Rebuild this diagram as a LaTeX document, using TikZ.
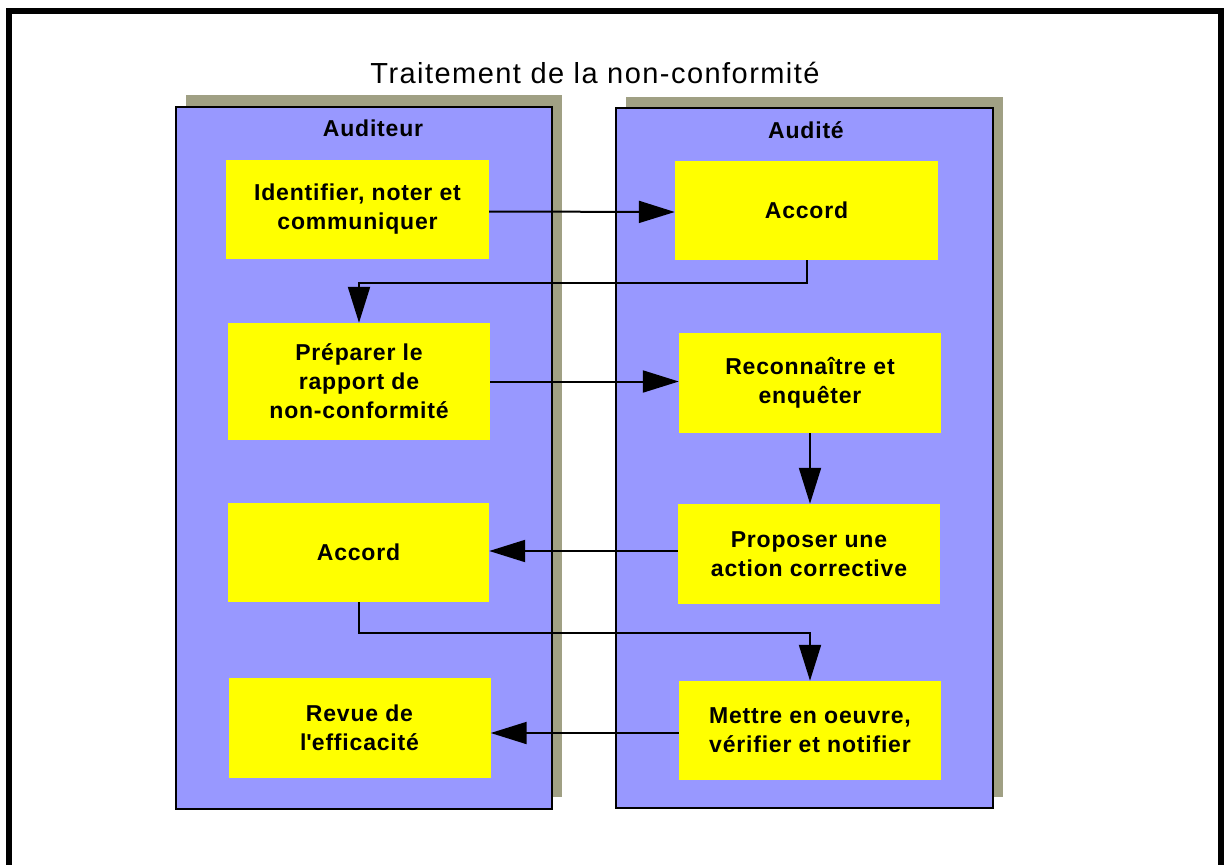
\documentclass[tikz,border=0pt]{standalone}
\usepackage{fontspec}
\setmainfont{Liberation Sans}
\usetikzlibrary{arrows.meta}
\definecolor{lane}{RGB}{152,152,255}
\definecolor{laneshadow}{RGB}{160,160,132}
\definecolor{stepfill}{RGB}{255,255,0}
\newfontfamily\headfont[LetterSpace=5]{Liberation Sans}
\newfontfamily\boxfont[LetterSpace=3.5]{Liberation Sans}
\begin{document}
\begin{tikzpicture}[x=1pt,y=-1pt,
  lanebox/.style={draw=black,line width=1.6pt,fill=lane},
  lanetitle/.style={font=\boxfont\bfseries\fontsize{23}{29}\selectfont},
  stepbox/.style={fill=stepfill,rectangle,inner sep=0pt,align=center,
    minimum width=262pt,minimum height=100pt,
    font=\boxfont\bfseries\fontsize{23}{29}\selectfont},
  flow/.style={line width=2pt,-{Triangle[length=36pt,width=22pt]}}]
\useasboundingbox (0,0) rectangle (1224,865);
\fill[white] (0,0) rectangle (1224,865);
% outer frame, open at the bottom
\draw[line width=6pt] (9,865) -- (9,11) -- (1221,11) -- (1221,865);
% heading
\node[font=\headfont\fontsize{29}{34}\selectfont] (title) at (595,73) {Traitement de la non-conformité};
% swimlanes with their shadows
\fill[laneshadow] (186,95) rectangle (562,797);
\fill[laneshadow] (626,97) rectangle (1003,797);
\draw[lanebox] (176,107) rectangle (552,809);
\draw[lanebox] (616,108) rectangle (993,808);
\node[lanetitle] (auditeur) at (373,128) {Auditeur};
\node[lanetitle] (audite) at (806,130) {Audité};
% steps of the auditor
\node[stepbox,minimum width=263pt,minimum height=99pt] (l1) at (357.5,209.5) {Identifier, noter et\\communiquer};
\node[stepbox,minimum height=117pt] (l2) at (359,381.5) {Préparer le\\rapport de\\non-conformité};
\node[stepbox,minimum width=261pt,minimum height=99pt] (l3) at (358.5,552.5) {Accord};
\node[stepbox] (l4) at (359.5,728) {Revue de\\l\textquotesingle efficacité};
% steps of the auditee
\node[stepbox,minimum width=263pt,minimum height=99pt] (r1) at (806.5,210.5) {Accord};
\node[stepbox] (r2) at (810,383) {Reconnaître et\\enquêter};
\node[stepbox] (r3) at (809,554) {Proposer une\\action corrective};
\node[stepbox,minimum height=99pt] (r4) at (810,730.5) {Mettre en oeuvre,\\vérifier et notifier};
% flow between the steps
\draw[flow] (l1.east) ++(0,2) -- (r1.west |- 0,212);
\draw[flow] (r1.south) -- ++(0,23) -| (l2.north);
\draw[flow] (l2.east) -- (l2.east -| r2.west);
\draw[flow] (r2.south) -- (r3.north -| r2.south);
\draw[flow] (r3.west |- l3.east) ++(0,-1.5) -- (l3.east |- 0,551);
\draw[flow] (l3.south) -- ++(0,31) -| (r4.north);
\draw[flow] (r4.west) ++(0,2.5) -- (l4.east |- 0,733);
\end{tikzpicture}
\end{document}
